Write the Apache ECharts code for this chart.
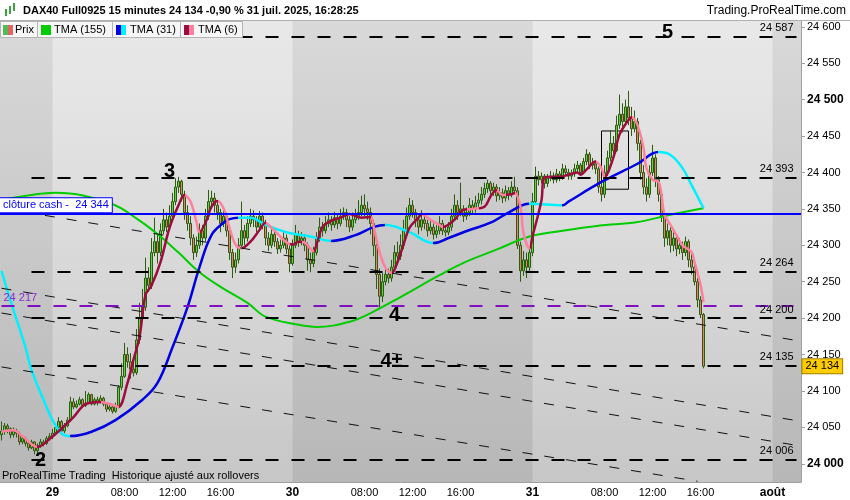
<!DOCTYPE html>
<html lang="fr">
<head>
<meta charset="UTF-8">
<title>DAX40 Full0925 15 minutes</title>
<script src="https://cdn.jsdelivr.net/npm/echarts@6.0.0/dist/echarts.min.js"></script>
<style>
    html, body { margin: 0; padding: 0; background: #fff; }
    #chart { width: 850px; height: 500px; }
</style>
</head>
<body>
<div id="chart"></div>
<script>
// sessions : 28 juil. from 17:45, then 02:00-22:00 each day, 1 août up to 04:15
var days = ['28', '29', '30', '31', 'août'];
var hourLabels = ['08:00', '12:00', '16:00'];
var firstQuarter = 71, lastQuarter = 17, openQuarter = 8, closeQuarter = 88;

// 15 min bars, open = previous close
var firstOpen = 24040;
var closes = [
    24045,24052,24048,24040,24045,24042,24030,24035,24028,24022,24030,24018,24025,24030,24028,24035,24038,
    24042,24050,24058,24045,24052,24060,24085,24078,24082,24088,
    24080,24083,24095,24082,24088,24085,24090,24082,24075,24078,
    24072,24080,24105,24120,24150,24140,24130,24125,24170,24200,
    24215,24255,24245,24290,24305,24290,24320,24335,24325,24340,
    24360,24380,24388,24370,24345,24330,24310,24290,24300,24320,
    24310,24340,24360,24365,24355,24345,24330,24340,24320,24290,
    24270,24280,24300,24320,24310,24330,24340,24335,24325,24340,
    24330,24310,24300,24315,24305,24295,24300,24310,24295,24275,
    24300,24315,24305,24310,24300,24280,24275,24290,24310,24325,
    24320,24330,24335,24328,24338,24330,24340,24345,24335,24325,
    24335,24340,24345,24355,24350,24345,24330,24300,24260,24230,
    24250,24260,24255,24270,24290,24285,24300,24320,24340,24355,
    24345,24335,24325,24335,24330,24320,24325,24315,24320,24330,
    24320,24318,24325,24340,24355,24345,24350,24340,24345,24355,
    24350,24358,24362,24370,24378,24385,24375,24380,24368,24372,
    24365,24375,24370,24380,24375,24300,24265,24280,24270,24290,
    24360,24395,24390,24395,24385,24392,24395,24390,24398,24393,
    24405,24400,24395,24398,24405,24410,24400,24415,24425,24410,
    24412,24405,24380,24370,24400,24420,24440,24430,24465,24480,
    24470,24490,24475,24460,24470,24440,24400,24380,24370,24400,
    24420,24390,24370,24340,24310,24320,24300,24310,24295,24300,
    24290,24305,24280,24270,24250,24225,24205,24134
];
var highs = [
    24058,24056,24055,24050,24050,24048,24044,24038,24037,24031,24033,24031,24028,24034,24033,24038,24042,
    24048,24055,24064,24060,24056,24064,24092,24090,24087,24092,
    24090,24100,24098,24096,24091,24092,24094,24092,24084,24081,
    24080,24084,24108,24138,24166,24160,24152,24140,24185,24221,
    24240,24283,24270,24310,24338,24315,24330,24350,24345,24355,
    24372,24392,24394,24390,24375,24355,24340,24315,24312,24330,
    24328,24350,24376,24375,24372,24360,24350,24348,24345,24325,
    24295,24290,24310,24360,24328,24340,24350,24348,24340,24347,
    24345,24335,24318,24322,24320,24310,24308,24318,24315,24300,
    24308,24328,24320,24318,24315,24304,24290,24298,24318,24338,
    24332,24340,24345,24340,24346,24342,24350,24352,24350,24340,
    24345,24350,24362,24368,24370,24360,24352,24335,24305,24268,
    24262,24272,24268,24280,24300,24305,24315,24335,24352,24365,
    24362,24350,24340,24348,24342,24335,24334,24330,24328,24340,
    24335,24326,24332,24350,24370,24362,24386,24355,24352,24365,
    24362,24368,24372,24380,24386,24390,24388,24386,24384,24380,
    24378,24382,24380,24388,24394,24380,24305,24292,24290,24298,
    24372,24408,24402,24400,24398,24398,24402,24400,24405,24402,
    24412,24410,24405,24404,24412,24416,24413,24420,24432,24428,
    24420,24416,24408,24386,24410,24430,24458,24450,24478,24507,
    24495,24500,24512,24490,24485,24475,24445,24410,24392,24410,
    24438,24425,24395,24375,24345,24330,24325,24318,24315,24310,
    24305,24312,24308,24288,24275,24255,24230,24207
];
var lows = [
    24032,24040,24042,24035,24036,24036,24026,24027,24024,24018,24020,24013,24015,24022,24024,24026,24032,
    24034,24040,24048,24040,24042,24050,24058,24075,24076,24080,
    24077,24078,24082,24080,24080,24080,24083,24079,24071,24072,
    24069,24070,24076,24101,24118,24132,24117,24120,24122,24165,
    24195,24210,24236,24240,24285,24275,24285,24315,24318,24320,
    24335,24355,24372,24360,24335,24320,24300,24280,24284,24295,
    24300,24305,24335,24350,24345,24335,24318,24325,24312,24280,
    24255,24262,24275,24295,24300,24305,24325,24325,24318,24320,
    24322,24300,24292,24296,24298,24288,24290,24296,24288,24263,
    24272,24296,24298,24300,24292,24265,24263,24270,24286,24305,
    24312,24316,24325,24320,24324,24322,24326,24335,24325,24318,
    24320,24330,24335,24340,24340,24335,24315,24285,24240,24214,
    24222,24245,24248,24250,24265,24278,24280,24295,24315,24335,
    24338,24325,24315,24320,24322,24312,24315,24308,24310,24315,
    24314,24312,24314,24320,24335,24335,24340,24332,24335,24340,
    24342,24345,24352,24356,24365,24372,24368,24368,24360,24362,
    24358,24360,24362,24366,24370,24295,24250,24258,24255,24262,
    24285,24355,24382,24385,24378,24380,24388,24385,24386,24388,
    24390,24395,24390,24390,24394,24400,24396,24398,24410,24405,
    24404,24398,24372,24360,24365,24395,24415,24420,24428,24460,
    24455,24465,24465,24450,24455,24430,24390,24370,24360,24365,
    24395,24380,24360,24332,24298,24300,24290,24292,24285,24288,
    24280,24285,24270,24260,24245,24215,24200,24131
];

var tma155 = [[0,24362],[5,24366],[18,24372],[36,24358],[46,24334],[53,24312],[59,24290],[66,24263],
    [73,24243],[82,24221],[88,24202],[99,24191],[105,24188],[116,24195],[124,24209],[133,24229],
    [146,24259],[154,24276],[165,24294],[176,24312],[187,24320],[199,24327],[212,24332],[223,24342],[234,24351]];
var tma31 = [[0,24265],[4,24211],[8,24160],[10,24129],[14,24088],[17,24060],[20,24042],[23,24038],
    [30,24044],[38,24060],[47,24088],[52,24111],[57,24160],[62,24215],[66,24270],[70,24314],[74,24331],
    [76,24336],[79,24338],[83,24338],[88,24328],[95,24318],[103,24312],[110,24306],[118,24314],[124,24325],
    [128,24328],[136,24318],[144,24303],[149,24310],[156,24321],[163,24331],[169,24345],[176,24357],
    [187,24355],[189,24360],[200,24387],[212,24412],[219,24428],[223,24424],[227,24406],[230,24383],[234,24351]];
var tma31Turns = [23, 79, 110, 128, 144, 176, 187, 219];
var tma6 = [[0,24044],[4,24046],[7,24038],[12,24023],[16,24034],[22,24056],[24,24064],[28,24082],
    [33,24085],[37,24081],[39,24078],[42,24111],[44,24143],[46,24174],[48,24232],[50,24245],[53,24277],
    [56,24324],[59,24355],[61,24369],[63,24360],[65,24332],[66,24318],[68,24331],[70,24353],[72,24361],
    [74,24351],[76,24324],[78,24301],[80,24296],[83,24305],[86,24321],[88,24331],[90,24324],[93,24312],
    [95,24304],[97,24301],[99,24305],[101,24304],[104,24292],[105,24301],[107,24325],[110,24334],
    [113,24338],[116,24343],[120,24338],[123,24339],[124,24326],[126,24291],[128,24269],[130,24262],
    [132,24277],[134,24301],[136,24324],[139,24338],[140,24343],[143,24335],[146,24328],[147,24325],
    [151,24335],[154,24349],[157,24350],[161,24353],[163,24367],[165,24376],[167,24369],[170,24370],
    [171,24372],[173,24353],[174,24317],[176,24296],[177,24312],[180,24362],[181,24393],[184,24394],
    [186,24394],[189,24397],[192,24400],[193,24397],[195,24404],[198,24415],[200,24406],[201,24394],
    [204,24421],[206,24452],[209,24472],[210,24476],[212,24465],[214,24434],[215,24406],[217,24390],
    [219,24387],[220,24369],[221,24342],[223,24328],[225,24314],[227,24300],[230,24291],[231,24277],
    [233,24246],[234,24222]];
var tma6Turns = [12, 33, 39, 61, 66, 72, 80, 88, 96, 100, 104, 123, 130, 140, 147, 155, 159, 165, 168, 171, 176, 198, 201, 210];

// drawn objects
var levels = [24587, 24393, 24264, 24200, 24135, 24006];
var levelFrom = 10, levelTo = 265;
var pivot = 24217;
var cashClose = 24344;
var lastPrice = 24134;
var lastIndex = 266;
var trendLines = [[0, 24351, 264, 24170], [0, 24241, 264, 24060], [0, 24207, 264, 24026], [0, 24133, 232, 23976]];
var waveLabels = [['2', 13, 24004], ['3', 56, 24402], ['4', 131, 24203], ['4±', 130, 24140], ['5', 222, 24592]];
var box = [200, 24457, 209, 24377];
var priceTicks = [24000, 24050, 24100, 24150, 24200, 24250, 24300, 24350, 24400, 24450, 24500, 24550, 24600];

function pad(n) { return n < 10 ? '0' + n : '' + n; }
function fmt(v) { return String(v).replace(/\B(?=(\d{3})+(?!\d))/g, ' '); }

var categories = [], catQuarter = [];
days.forEach(function (d, k) {
    var from = k === 0 ? firstQuarter : openQuarter;
    var to = k === days.length - 1 ? lastQuarter : closeQuarter - 1;
    for (var q = from; q <= to; q++) {
        categories.push(d + ' ' + pad(Math.floor(q / 4)) + ':' + pad((q % 4) * 15));
        catQuarter.push(q);
    }
});

var ohlc = closes.map(function (c, i) {
    var o = i === 0 ? firstOpen : closes[i - 1];
    return [o, c, lows[i], highs[i]];
});

function pieces(turns, first, second) {
    var out = [];
    for (var k = 0; k <= turns.length; k++) {
        var p = {color: k % 2 === 0 ? first : second};
        if (k > 0) p.gte = turns[k - 1];
        if (k < turns.length) p.lt = turns[k];
        out.push(p);
    }
    return out;
}

var FONT = '"Liberation Sans", Arial, sans-serif';
var BLUE = '#0000e0', CYAN = '#00f0ff', DARKRED = '#9c0c3c', PINK = '#ff7f9f', GREEN = '#00cc00';

var levelLines = levels.map(function (v) {
    return [{coord: [levelFrom, v], label: {show: true, position: 'insideEndTop', formatter: fmt(v), distance: 3}},
            {coord: [levelTo, v]}];
});
var diagLines = trendLines.map(function (t) {
    return [{coord: [t[0], t[1]], lineStyle: {color: '#111', width: 1, type: [10, 12]}, label: {show: false}},
            {coord: [t[2], t[3]]}];
});
var pivotLine = [[{coord: [0, pivot], lineStyle: {color: '#7f10c0', width: 2, type: [13, 13]},
    label: {show: true, position: 'insideStartTop', formatter: fmt(pivot), color: '#8a2ad0', distance: 2}},
    {coord: [levelTo - 1, pivot]}]];

var chart = echarts.init(document.getElementById('chart'));
chart.setOption({
    animation: false,
    backgroundColor: '#ffffff',
    textStyle: {fontFamily: FONT},
    grid: {
        left: 0, right: 49, top: 21, bottom: 18, show: true, borderWidth: 0,
        backgroundColor: new echarts.graphic.LinearGradient(0, 0, 0, 1, [
            {offset: 0, color: '#d9d9d9'}, {offset: 1, color: '#b7b7b7'}
        ])
    },
    xAxis: {
        type: 'category', data: categories, boundaryGap: true,
        axisLine: {lineStyle: {color: '#a0a0a0'}},
        axisTick: {
            alignWithLabel: true, length: 4, lineStyle: {color: '#a0a0a0'},
            interval: function (i) { var q = catQuarter[i]; return q === openQuarter || q % 16 === 0; }
        },
        axisLabel: {
            margin: 5, color: '#000', fontSize: 11, fontFamily: FONT,
            interval: function (i, v) {
                return catQuarter[i] === openQuarter || hourLabels.indexOf(v.split(' ')[1]) >= 0;
            },
            formatter: function (v) {
                var p = v.split(' ');
                return p[1] === '02:00' ? '{b|' + p[0] + '}' : p[1];
            },
            rich: {b: {fontWeight: 'bold', fontSize: 12, fontFamily: FONT}}
        },
        splitLine: {show: false}
    },
    yAxis: {
        type: 'value', position: 'right', min: 23975, max: 24608,
        splitLine: {show: false},
        axisLine: {show: true, lineStyle: {color: '#a0a0a0'}},
        axisTick: {show: true, length: 4, customValues: priceTicks, lineStyle: {color: '#a0a0a0'}},
        axisLabel: {
            customValues: priceTicks, margin: 6, color: '#000', fontSize: 11, fontFamily: FONT,
            formatter: function (v) { return v % 500 === 0 ? '{b|' + fmt(v) + '}' : fmt(v); },
            rich: {b: {fontWeight: 'bold', fontSize: 12, fontFamily: FONT}}
        }
    },
    visualMap: [
        {type: 'piecewise', show: false, seriesIndex: 4, dimension: 0, pieces: pieces(tma31Turns, CYAN, BLUE)},
        {type: 'piecewise', show: false, seriesIndex: 5, dimension: 0, pieces: pieces(tma6Turns, PINK, DARKRED)}
    ],
    series: [
        {   // day shading
            type: 'line', data: [], z: 1, silent: true,
            markArea: {
                silent: true,
                itemStyle: {color: new echarts.graphic.LinearGradient(0, 0, 0, 1, [
                    {offset: 0, color: 'rgba(255,255,255,0.42)'}, {offset: 1, color: 'rgba(255,255,255,0.22)'}
                ])},
                data: [[{xAxis: 17}, {xAxis: 97}], [{xAxis: 177}, {xAxis: 257}]]
            }
        },
        {
            name: 'Prix', type: 'candlestick', data: ohlc, z: 2, barWidth: 2,
            itemStyle: {color: '#62d143', color0: '#e8806c', borderColor: '#2b5c12', borderColor0: '#2b5c12', borderWidth: 1}
        },
        {   // levels and trend lines
            type: 'line', data: [], z: 3, silent: true,
            markLine: {
                silent: true, symbol: ['none', 'none'],
                lineStyle: {color: '#000', width: 2, type: [13, 13]},
                label: {color: '#000', fontSize: 11, fontFamily: FONT},
                data: levelLines.concat(diagLines, pivotLine)
            }
        },
        {
            name: 'TMA (155)', type: 'line', data: tma155, z: 4, smooth: 0.4, showSymbol: false,
            lineStyle: {color: GREEN, width: 2}
        },
        {
            name: 'TMA (31)', type: 'line', data: tma31, z: 4, smooth: 0.4, showSymbol: false,
            lineStyle: {width: 2.5}
        },
        {
            name: 'TMA (6)', type: 'line', data: tma6, z: 4, smooth: 0.35, showSymbol: false,
            lineStyle: {width: 2.5}
        },
        {   // cash close, last price, wave counts, box
            type: 'line', data: [], z: 6, silent: true,
            markLine: {
                silent: true, symbol: ['none', 'none'],
                data: [
                    {yAxis: cashClose, lineStyle: {color: '#0000ff', width: 2, type: 'solid'}, label: {show: false}}
                ]
            },
            markPoint: {
                silent: true, symbol: 'circle', symbolSize: 0,
                data: [{
                    coord: [0, cashClose], label: {
                        show: true, position: 'right', distance: 0, offset: [-1.5, -8],
                        formatter: 'clôture cash -  ' + fmt(cashClose),
                        backgroundColor: '#ffffff', borderColor: '#0000ff', borderWidth: 1,
                        padding: [2, 3, 1, 3], color: '#0000ff', fontSize: 11, fontFamily: FONT
                    }
                }, {
                    coord: [lastIndex, lastPrice], label: {
                        show: true, position: 'right', distance: 3, formatter: fmt(lastPrice),
                        backgroundColor: '#ffcc00', borderColor: '#a08000', borderWidth: 1,
                        padding: [2, 3, 1, 3], color: '#000', fontSize: 11, fontFamily: FONT
                    }
                }].concat(waveLabels.map(function (w) {
                    return {coord: [w[1], w[2]], label: {
                        show: true, position: 'inside', formatter: w[0],
                        color: '#000', fontSize: 20, fontWeight: 'bold', fontFamily: FONT
                    }};
                }))
            },
            markArea: {
                silent: true,
                itemStyle: {color: 'rgba(0,0,0,0)', borderColor: '#000', borderWidth: 1},
                data: [[{coord: [box[0], box[1]]}, {coord: [box[2], box[3]]}]]
            }
        }
    ],
    graphic: [
        {type: 'rect', z: 50, shape: {x: 0, y: 0, width: 850, height: 21}, style: {fill: '#ffffff'}},
        {type: 'line', z: 51, shape: {x1: 0, y1: 20.5, x2: 850, y2: 20.5}, style: {stroke: '#b0b0b0', lineWidth: 1}},
        {type: 'rect', z: 51, shape: {x: 5, y: 9, width: 2, height: 7}, style: {fill: '#3fa23f'}},
        {type: 'rect', z: 51, shape: {x: 9, y: 6, width: 2, height: 8}, style: {fill: '#3fa23f'}},
        {type: 'rect', z: 51, shape: {x: 13, y: 3, width: 2, height: 8}, style: {fill: '#3fa23f'}},
        {type: 'text', z: 51, left: 23, top: 5, style: {
            text: 'DAX40 Full0925 15 minutes 24 134 -0,90 % 31 juil. 2025, 16:28:25',
            fill: '#000', font: 'bold 11px ' + FONT}},
        {type: 'text', z: 51, right: 4, top: 5, style: {
            text: 'Trading.ProRealTime.com', fill: '#000', font: '12px ' + FONT}},

        {type: 'rect', z: 50, shape: {x: 0.5, y: 21.5, width: 37, height: 16}, style: {fill: '#f6f6f6', stroke: '#b4b4b4'}},
        {type: 'rect', z: 51, shape: {x: 3, y: 25, width: 5, height: 10}, style: {fill: '#55bb55'}},
        {type: 'rect', z: 51, shape: {x: 8, y: 25, width: 5, height: 10}, style: {fill: '#e06464'}},
        {type: 'text', z: 51, left: 15, top: 24, style: {text: 'Prix', fill: '#000', font: '11px ' + FONT}},

        {type: 'rect', z: 50, shape: {x: 37.5, y: 21.5, width: 75, height: 16}, style: {fill: '#f6f6f6', stroke: '#b4b4b4'}},
        {type: 'rect', z: 51, shape: {x: 41, y: 25, width: 10, height: 10}, style: {fill: GREEN}},
        {type: 'text', z: 51, left: 54, top: 24, style: {text: 'TMA (155)', fill: '#000', font: '11px ' + FONT}},

        {type: 'rect', z: 50, shape: {x: 112.5, y: 21.5, width: 68, height: 16}, style: {fill: '#f6f6f6', stroke: '#b4b4b4'}},
        {type: 'rect', z: 51, shape: {x: 116, y: 25, width: 5, height: 10}, style: {fill: BLUE}},
        {type: 'rect', z: 51, shape: {x: 121, y: 25, width: 5, height: 10}, style: {fill: CYAN}},
        {type: 'text', z: 51, left: 130, top: 24, style: {text: 'TMA (31)', fill: '#000', font: '11px ' + FONT}},

        {type: 'rect', z: 50, shape: {x: 180.5, y: 21.5, width: 62, height: 16}, style: {fill: '#f6f6f6', stroke: '#b4b4b4'}},
        {type: 'rect', z: 51, shape: {x: 184, y: 25, width: 5, height: 10}, style: {fill: DARKRED}},
        {type: 'rect', z: 51, shape: {x: 189, y: 25, width: 5, height: 10}, style: {fill: PINK}},
        {type: 'text', z: 51, left: 198, top: 24, style: {text: 'TMA (6)', fill: '#000', font: '11px ' + FONT}},

        {type: 'text', z: 51, left: 2, top: 470, style: {
            text: 'ProRealTime Trading  Historique ajusté aux rollovers', fill: '#000', font: '11px ' + FONT}}
    ]
});
</script>
</body>
</html>
